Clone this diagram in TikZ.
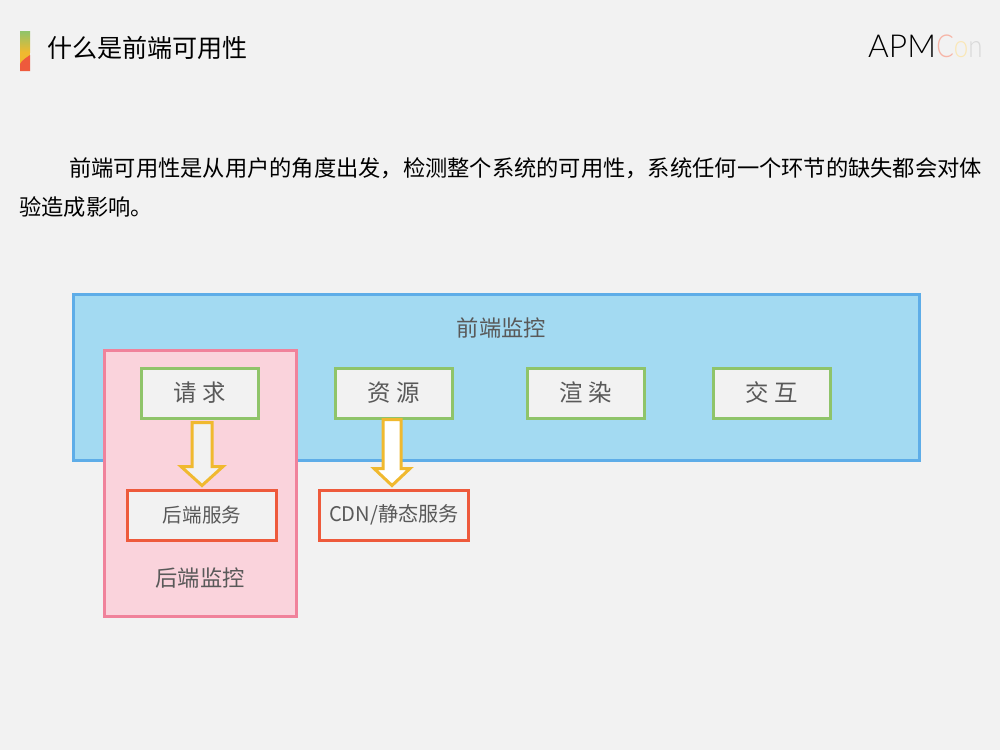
\documentclass[tikz,border=0pt]{standalone}
\usepackage{fontspec}
\setmainfont{Noto Sans CJK SC}
\newfontfamily\logofont{Lato Light}
\usetikzlibrary{calc}
\definecolor{pagebg}{HTML}{F2F2F2}
\definecolor{bluefill}{HTML}{A3DAF2}
\definecolor{blueline}{HTML}{5EADE8}
\definecolor{pinkfill}{HTML}{FAD3DC}
\definecolor{pinkline}{HTML}{F0829B}
\definecolor{greenline}{HTML}{8FC46A}
\definecolor{redline}{HTML}{EE5A3C}
\definecolor{yellowline}{HTML}{F0B92F}
\definecolor{labelgray}{HTML}{595959}
\tikzset{
    title/.style={anchor=west, inner sep=0pt, font=\fontsize{21.4pt}{24pt}\selectfont},
    para/.style={anchor=west, inner sep=0pt, font=\fontsize{19pt}{22pt}\selectfont},
    label/.style={inner sep=0pt, text=labelgray, font=\fontsize{19pt}{22pt}\selectfont},
    panel/.style={draw, line width=0.09cm, inner sep=0pt},
    topbox/.style={panel, draw=greenline, fill=pagebg, text=labelgray, minimum width=3.5cm, minimum height=1.5cm, font=\fontsize{20pt}{22pt}\selectfont},
    lowbox/.style={panel, draw=redline, fill=pagebg, text=labelgray, minimum width=4.44cm, minimum height=1.5cm, font=\fontsize{16.7pt}{20pt}\selectfont},
    blockarrow/.style={draw=yellowline, line width=0.09cm, line join=miter},
    logo/.style={anchor=west, inner sep=0pt, font=\logofont\fontsize{27pt}{30pt}\selectfont}
}
\begin{document}
\begin{tikzpicture}[x=0.03cm, y=-0.03cm]
    \fill[pagebg] (0,0) rectangle (1000,750);
    \useasboundingbox (0,0) rectangle (1000,750);

    % heading
    \shade[top color=greenline, bottom color=yellowline] (20,31) rectangle (30,52);
    \fill[yellowline] (20,52) rectangle (30,71);
    \fill[redline] (20,71) -- (20,64) .. controls (22,60) and (26,58) .. (30,55) -- (30,71) -- cycle;
    \node (title) [title] at (47,48) {什么是前端可用性};
    \node (apm) [logo, text=black] at (868,46) {APM};
    \node (con) [logo, xscale=0.82] at (apm.east) {\textcolor{redline!45}{C}\textcolor{yellowline!35}{o}\textcolor{black!15}{n}};

    % text
    \node (line1) [para] at (69,168) {前端可用性是从用户的角度出发，检测整个系统的可用性，系统任何一个环节的缺失都会对体};
    \node (line2) [para] at (19,207) {验造成影响。};

    % panels
    \node (front) [panel, draw=blueline, fill=bluefill, minimum width=25.38cm, minimum height=4.98cm] at (496.5,377.5) {};
    \node (frontlabel) [label] at (501.5,328) {前端监控};
    \node (back) [panel, draw=pinkline, fill=pinkfill, minimum width=5.76cm, minimum height=7.98cm] at (200.5,483) {};
    \node (backlabel) [label] at (200,578) {后端监控};

    % boxes
    \node (req) [topbox] at (200,393) {请 求};
    \node (res) [topbox] at (394,393) {资 源};
    \node (render) [topbox] at (586,393) {渲 染};
    \node (inter) [topbox] at (772,393) {交 互};
    \node (server) [lowbox] at (202,515) {后端服务};
    \node (cdn) [lowbox] at (394,515) {\fontsize{17.2pt}{20pt}\selectfont CDN/静态服务};

    % arrows
    \draw[blockarrow, fill=pagebg]
        ($(server.north)+(-10,-66)$) -- ($(server.north)+(-10,-22)$) -- ($(server.north)+(-21,-22)$)
        -- ($(server.north)+(0,-3)$) -- ($(server.north)+(21,-22)$) -- ($(server.north)+(10,-22)$)
        -- ($(server.north)+(10,-66)$) -- cycle;
    \draw[blockarrow, fill=white]
        ($(res.south)+(-11,0)$) -- ($(cdn.north)+(-11,-20)$) -- ($(cdn.north)+(-20,-20)$)
        -- ($(cdn.north)+(-2,-3)$) -- ($(cdn.north)+(16,-20)$) -- ($(cdn.north)+(7,-20)$)
        -- ($(res.south)+(7,0)$) -- cycle;
\end{tikzpicture}
\end{document}
